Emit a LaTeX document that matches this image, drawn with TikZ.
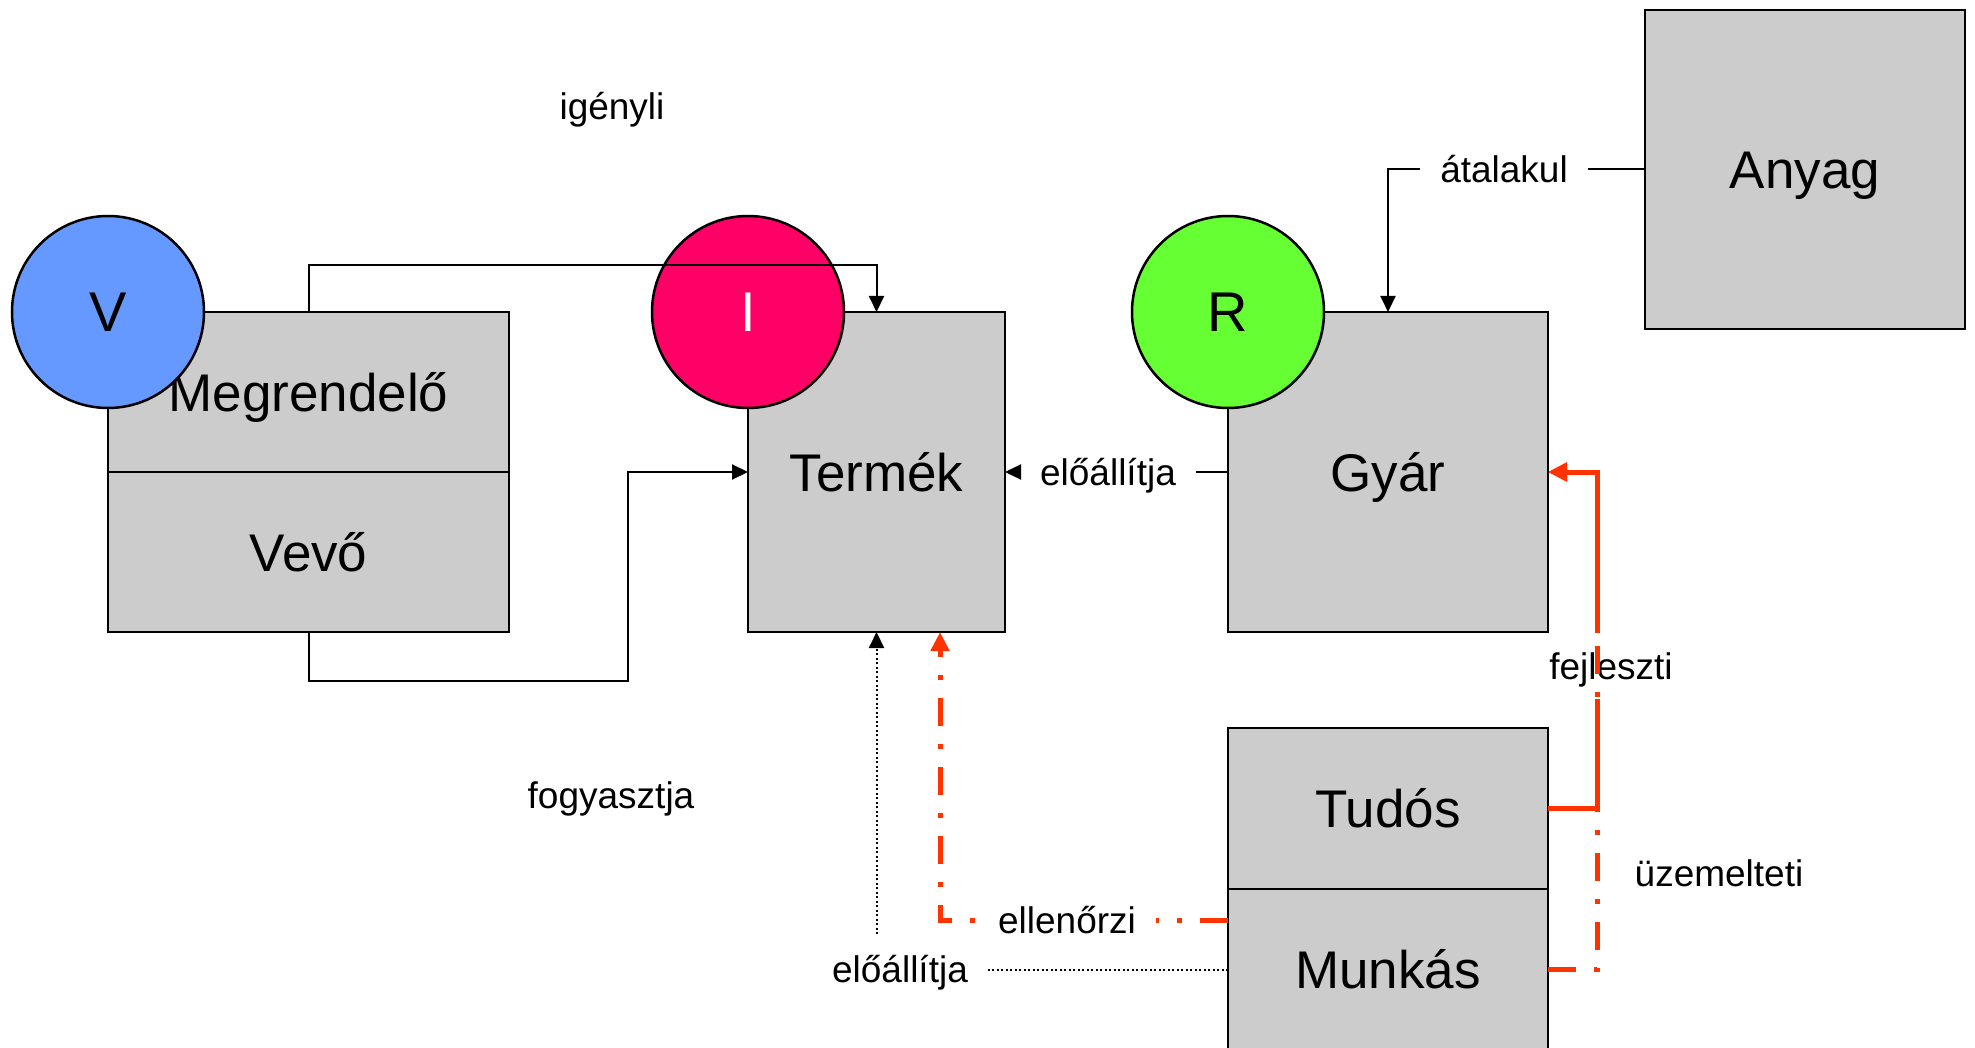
\documentclass[tikz,border=0pt]{standalone}
\usepackage{fontspec}
\setmainfont{Liberation Sans}
\usetikzlibrary{arrows.meta}
\definecolor{boxgray}{HTML}{CCCCCC}
\definecolor{vblue}{HTML}{6699FF}
\definecolor{ipink}{HTML}{FF0066}
\definecolor{rgreen}{HTML}{66FF33}
\definecolor{relred}{HTML}{FF3300}
\newcommand\entityfont{\fontsize{53}{60}\selectfont}
\newcommand\verbfont{\fontsize{37}{44}\selectfont}
\newcommand\rolefont{\fontsize{56}{64}\selectfont}
\tikzset{
  entity/.style={rectangle, draw=black, line width=2.5pt, fill=boxgray, inner sep=0pt, outer sep=0pt,
    font=\entityfont, text height=38pt, text depth=0pt},
  role/.style={circle, draw=black, line width=2.5pt, minimum size=192pt, inner sep=0pt, outer sep=0pt,
    font=\rolefont, text height=40pt, text depth=0pt},
  verb/.style={font=\verbfont, text height=26.5pt, text depth=0pt, inner xsep=20pt, inner ysep=20pt},
  conn/.style={draw=black, line width=2pt},
  blacktip/.style={-{Triangle[length=16pt,width=15pt]}},
  redtip/.style={-{Triangle[length=19pt,width=18pt]}},
  develops/.style={draw=relred, line width=5pt},
  dashdotred/.style={draw=relred, line width=5pt, dash pattern=on 28pt off 18pt on 5pt off 18pt},
  dottedconn/.style={draw=black, line width=2pt, dash pattern=on 2pt off 2.5pt},
}
\begin{document}
\begin{tikzpicture}[x=1pt,y=-1pt]
\useasboundingbox (0,0) rectangle (1975,1048);

% entities
\node[entity, minimum width=401pt, minimum height=160pt] (meg) at (308.5,392) {Megrendelő};
\node[entity, minimum width=401pt, minimum height=160pt] (vevo) at (308.5,552) {Vevő};
\node[entity, minimum width=257pt, minimum height=320pt] (term) at (876.5,472) {Termék};
\node[entity, minimum width=320pt, minimum height=320pt] (gyar) at (1388,472) {Gyár};
\node[entity, minimum width=320pt, minimum height=319pt] (anyag) at (1805,169.5) {Anyag};
\node[entity, minimum width=320pt, minimum height=161pt] (tudos) at (1388,808.5) {Tudós};
\node[entity, minimum width=320pt, minimum height=161pt] (munkas) at (1388,969.5) {Munkás};

% role circles on the corners
\node[role, fill=vblue] (v) at (meg.north west) {V};
\node[role, fill=ipink, text=white] (i) at (term.north west) {I};
\node[role, fill=rgreen] (r) at (gyar.north west) {R};

% igényli / fogyasztja
\coordinate (igy) at (600,265);
\draw[conn, blacktip] (meg.north) |- (igy) -| (term.north);
\coordinate (fg) at (628,681);
\draw[conn, blacktip] (vevo.south) |- (fg) |- (term.west);
\node[verb] (igenyli) at (612,106) {igényli};
\node[verb] (fogy) at (611,795) {fogyasztja};

% Gyár előállítja Termék
\node[verb] (el1) at (1108,472) {előállítja};
\draw[conn] (gyar.west) -- (el1.east);
\draw[conn, blacktip] (el1.west) -- (term.east);

% Anyag átalakul
\node[verb] (atal) at (1504,169.5) {átalakul};
\draw[conn] (anyag.west) -- (atal.east);
\draw[conn, blacktip] (atal.west) -| (gyar.north);

% Tudós fejleszti Gyár
\coordinate (rx) at (1597,700);
\draw[develops, redtip] (tudos.east) -| (gyar.east -| rx) -- (gyar.east);
\node[verb, fill=white] (fejl) at (1611,666) {fejleszti};
% Munkás üzemelteti Gyár
\draw[dashdotred, redtip] (munkas.east) -| (gyar.east -| rx) -- (gyar.east);
\node[verb] (uzem) at (1719,873) {üzemelteti};

% Munkás ellenőrzi Termék
\coordinate (ell) at ([yshift=49pt]munkas.west);
\coordinate (tb) at ([xshift=63.5pt]term.south);
\draw[dashdotred, redtip] (ell) -| (tb);
\node[verb, fill=white] (ellen) at (1067,920.5) {ellenőrzi};

% Munkás előállítja Termék
\draw[dottedconn, blacktip] (munkas.west) -| (term.south);
\node[verb, fill=white] (el2) at (900,969.5) {előállítja};
\end{tikzpicture}
\end{document}
